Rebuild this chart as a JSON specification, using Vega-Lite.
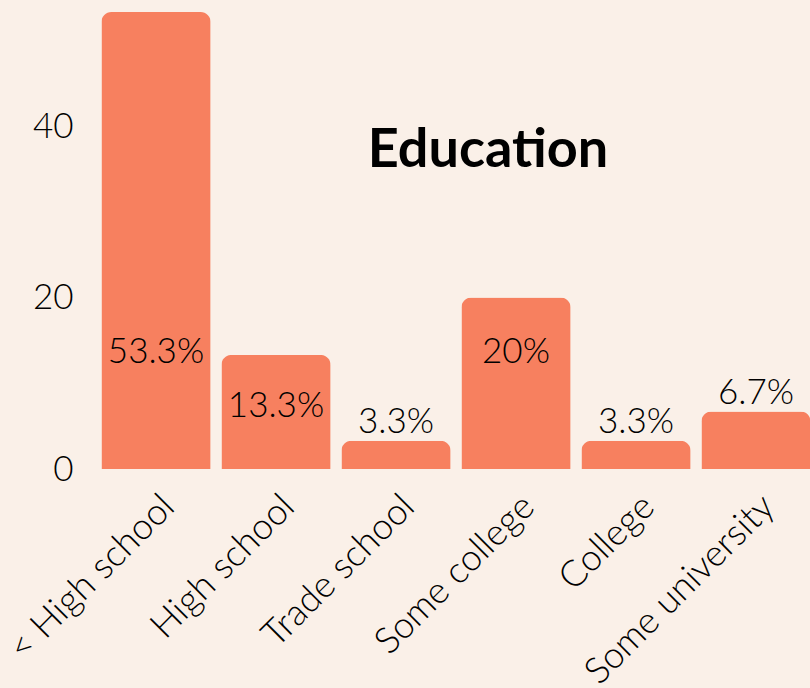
{
  "$schema": "https://vega.github.io/schema/vega-lite/v6.json",
  "autosize": {"type": "none"},
  "padding": {"left": 96, "top": 12, "right": 0, "bottom": 219},
  "width": 720,
  "height": 457,
  "background": "#FAF0E8",
  "config": {
    "view": {"stroke": null},
    "font": "Lato",
    "axis": {"labelFont": "Lato", "labelColor": "#000000", "domain": false, "ticks": false, "grid": false, "title": null}
  },
  "title": {
    "text": "Education",
    "font": "Lato",
    "fontSize": 54,
    "fontWeight": "bold",
    "color": "#000000",
    "anchor": "middle",
    "frame": "group",
    "dx": 32,
    "dy": 166,
    "offset": 0
  },
  "data": {
    "values": [
      {"level": "< High school", "pct": 53.3, "label": "53.3%"},
      {"level": "High school", "pct": 13.3, "label": "13.3%"},
      {"level": "Trade school", "pct": 3.3, "label": "3.3%"},
      {"level": "Some college", "pct": 20, "label": "20%"},
      {"level": "College", "pct": 3.3, "label": "3.3%"},
      {"level": "Some university", "pct": 6.7, "label": "6.7%"}
    ]
  },
  "encoding": {
    "x": {
      "field": "level",
      "type": "nominal",
      "sort": null,
      "scale": {"paddingInner": 0.09, "paddingOuter": 0.045},
      "axis": {"labelAngle": -45, "labelFontSize": 36.5, "labelFontWeight": 300, "labelPadding": 19, "labelLimit": 0, "labelOverlap": false}
    }
  },
  "layer": [
    {
      "mark": {"type": "bar", "color": "#F7805F", "cornerRadiusTopLeft": 10, "cornerRadiusTopRight": 10},
      "encoding": {
        "y": {
          "field": "pct",
          "type": "quantitative",
          "scale": {"domain": [0, 53.3], "nice": false},
          "axis": {"values": [0, 20, 40], "labelFontSize": 35, "labelFontWeight": 300, "labelPadding": 23}
        }
      }
    },
    {
      "transform": [{"filter": "datum.pct >= 15"}],
      "mark": {"type": "text", "fontSize": 35, "fontWeight": 300, "baseline": "middle", "dy": 54, "color": "#000000"},
      "encoding": {"y": {"datum": 20, "type": "quantitative"}, "text": {"field": "label"}}
    },
    {
      "transform": [{"filter": "datum.pct >= 10 && datum.pct < 15"}],
      "mark": {"type": "text", "fontSize": 35, "fontWeight": 300, "baseline": "middle", "dy": 51, "color": "#000000"},
      "encoding": {"y": {"field": "pct", "type": "quantitative"}, "text": {"field": "label"}}
    },
    {
      "transform": [{"filter": "datum.pct < 10"}],
      "mark": {"type": "text", "fontSize": 35, "fontWeight": 300, "baseline": "middle", "dy": -19, "color": "#000000"},
      "encoding": {"y": {"field": "pct", "type": "quantitative"}, "text": {"field": "label"}}
    }
  ]
}
